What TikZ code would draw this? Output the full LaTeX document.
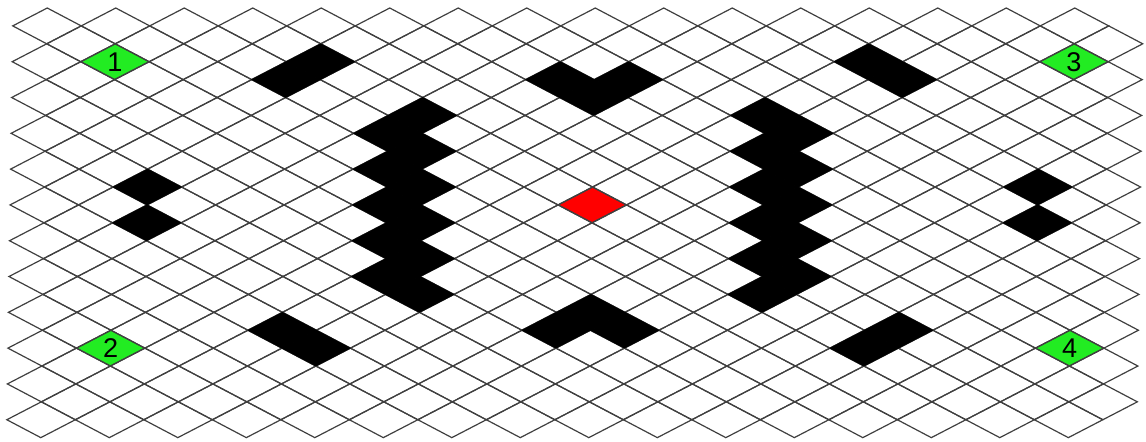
\documentclass[tikz,border=0pt]{standalone}
\usepackage{fontspec}
\setmainfont{Liberation Sans}
\usepackage{xcolor}
\definecolor{goalgreen}{RGB}{34,236,34}
\definecolor{startred}{RGB}{255,0,0}

\begin{document}
\begin{tikzpicture}[
  x=0.6cm, y=0.3136cm,
  tile/.style={draw=black!75, line width=0.6pt},
  wall/.style={fill=black, draw=black, line width=0.3pt},
  goal/.style={fill=goalgreen},
  start/.style={fill=startred},
  num/.style={font=\fontsize{13.5}{13.5}\selectfont, inner sep=0pt}
]
\useasboundingbox (-0.3796,0.4469) rectangle (33.08,-24.19);

\begin{scope}[xslant=0.015]
% goal tiles and start tile
\foreach \cx/\cy in {3/3, 3/19, 31/3, 31/19}
  \fill[goal] (\cx-1,-\cy) -- (\cx,-\cy+1) -- (\cx+1,-\cy) -- (\cx,-\cy-1) -- cycle;
\fill[start] (16,-11) -- (17,-10) -- (18,-11) -- (17,-12) -- cycle;

% the grid
\foreach \r in {1,...,23}
  \foreach \i in {0,...,15} {
    \pgfmathtruncatemacro\cx{2*\i+2-mod(\r,2)}
    \draw[tile] (\cx-1,-\r) -- (\cx,-\r+1) -- (\cx+1,-\r) -- (\cx,-\r-1) -- cycle;
  }

% blocked tiles
\foreach \cx/\cy in {8/4, 9/3, 25/3, 26/4, 8/18, 9/19, 25/19, 26/18,
    16/4, 17/5, 18/4, 16/18, 17/17, 18/18,
    12/6, 11/7, 12/8, 11/9, 12/10, 11/11, 12/12, 11/13, 12/14, 11/15, 12/16,
    22/6, 23/7, 22/8, 23/9, 22/10, 23/11, 22/12, 23/13, 22/14, 23/15, 22/16,
    4/10, 4/12, 30/10, 30/12}
  \filldraw[wall] (\cx-1,-\cy) -- (\cx,-\cy+1) -- (\cx+1,-\cy) -- (\cx,-\cy-1) -- cycle;

\node[num] (g1) at (3,-3) {1};
\node[num] (g2) at (3,-19) {2};
\node[num] (g3) at (31,-3) {3};
\node[num] (g4) at (31,-19) {4};
\end{scope}
\end{tikzpicture}
\end{document}
